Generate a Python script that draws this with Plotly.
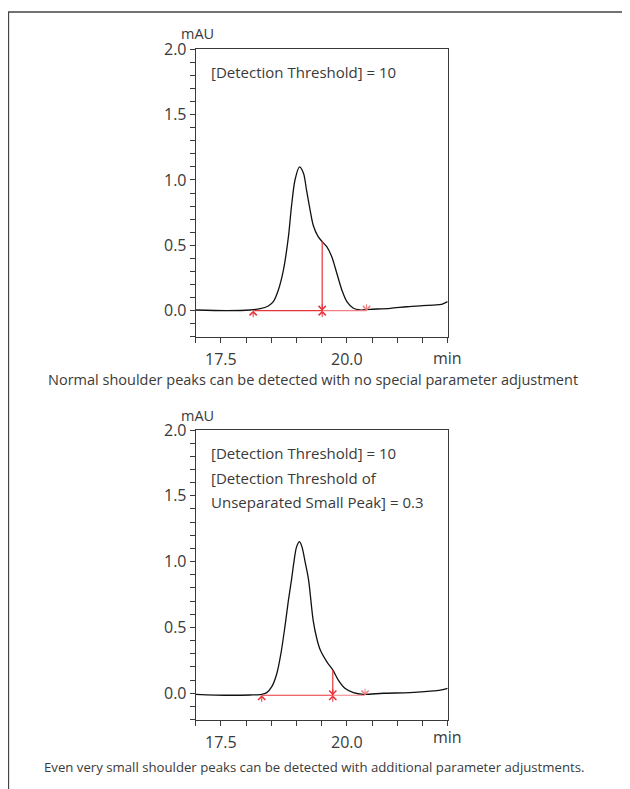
import plotly.graph_objects as go

# ---------------- data ----------------
# Top chromatogram (shoulder detected with default parameters)
top_time = [17.00, 17.62, 18.08, 18.28, 18.44, 18.54, 18.64, 18.74, 18.84, 18.90, 18.97,
            19.06, 19.14, 19.20, 19.27, 19.33, 19.43, 19.51, 19.60, 19.70, 19.80, 19.90,
            20.00, 20.13, 20.26, 20.46, 20.86, 21.19, 21.50, 21.72, 21.88, 22.00]
top_signal = [0.005, 0.000, 0.005, 0.015, 0.036, 0.069, 0.158, 0.310, 0.566, 0.796, 1.000,
              1.100, 1.050, 0.920, 0.770, 0.656, 0.566, 0.528, 0.490, 0.413, 0.286, 0.158,
              0.069, 0.018, 0.005, 0.010, 0.018, 0.030, 0.038, 0.043, 0.048, 0.069]

# Bottom chromatogram (very small shoulder, extra parameter)
bottom_time = [17.00, 17.62, 18.08, 18.31, 18.41, 18.51, 18.61, 18.69, 18.77, 18.84, 18.90,
               18.95, 19.00, 19.06, 19.11, 19.17, 19.24, 19.33, 19.40, 19.47, 19.60, 19.72,
               19.83, 19.96, 20.13, 20.33, 20.72, 21.25, 21.72, 21.88, 22.00]
bottom_signal = [-0.008, -0.015, -0.013, -0.008, 0.005, 0.050, 0.150, 0.300, 0.505, 0.707, 0.860,
                 1.000, 1.110, 1.152, 1.110, 1.000, 0.860, 0.556, 0.420, 0.330, 0.240, 0.177,
                 0.100, 0.038, 0.005, -0.008, 0.000, 0.005, 0.018, 0.025, 0.038]

# Peak integration marks: [start, split, end], baseline level, split height
top_marks = [18.14, 19.51, 20.39]
top_base_level = 0.0
top_split_height = 0.53
bottom_marks = [18.31, 19.72, 20.36]
bottom_base_level = -0.015
bottom_split_height = 0.177

# Axis ticks
x_tick_vals = [17.0, 17.5, 18.0, 18.5, 19.0, 19.5, 20.0, 20.5, 21.0, 21.5, 22.0]
x_tick_text = ["", "17.5", "", "", "", "", "20.0", "", "", "", ""]
y_tick_vals = [round(-0.2 + 0.1 * i, 1) for i in range(23)]
y_label_map = {0.0: "0.0", 0.5: "0.5", 1.0: "1.0", 1.5: "1.5", 2.0: "2.0"}
y_tick_text = [y_label_map.get(v, "") for v in y_tick_vals]

# Texts
top_note = ["[Detection Threshold] = 10"]
bottom_note = ["[Detection Threshold] = 10",
               "[Detection Threshold of",
               "Unseparated Small Peak] = 0.3"]
top_caption = "Normal shoulder peaks can be detected with no special parameter adjustment"
bottom_caption = "Even very small shoulder peaks can be detected with additional parameter adjustments."
y_unit = "mAU"
x_unit = "min"

# ---------------- styling ----------------
OFF = 8                      # page body margin of the browser
W, H = 630 - OFF, 789 - OFF
FONT = "Open Sans"
TXT = "#3a3a3a"
AX = "#3a3a3a"
RED = "#e8333a"
PINK = "#f07f82"

def px(x):
    return (x - OFF) / W

def py(y):
    return 1 - (y - OFF) / H

fig = go.Figure()

panels = [
    dict(t=top_time, s=top_signal, m=top_marks, b=top_base_level, h=top_split_height, xa="x", ya="y"),
    dict(t=bottom_time, s=bottom_signal, m=bottom_marks, b=bottom_base_level, h=bottom_split_height, xa="x2", ya="y2"),
]

annotations = []
for p in panels:
    fig.add_trace(go.Scatter(x=p["t"], y=p["s"], mode="lines",
                             line=dict(color="#111111", width=1.3, shape="spline", smoothing=0.8),
                             xaxis=p["xa"], yaxis=p["ya"], showlegend=False, hoverinfo="skip"))
    start, split, end = p["m"]
    fig.add_trace(go.Scatter(x=[start, split], y=[p["b"], p["b"]], mode="lines", line=dict(color=RED, width=1.2),
                             xaxis=p["xa"], yaxis=p["ya"], showlegend=False, hoverinfo="skip"))
    fig.add_trace(go.Scatter(x=[split, end], y=[p["b"], p["b"]], mode="lines", line=dict(color=PINK, width=1.2),
                             xaxis=p["xa"], yaxis=p["ya"], showlegend=False, hoverinfo="skip"))
    fig.add_trace(go.Scatter(x=[split, split], y=[p["b"], p["h"]], mode="lines", line=dict(color=RED, width=1.2),
                             xaxis=p["xa"], yaxis=p["ya"], showlegend=False, hoverinfo="skip"))
    # arrow marks
    arrow_specs = [(start, 8, RED), (split, 8, RED), (split, -8, RED), (end, -8, PINK)]
    for xv, ay, col in arrow_specs:
        annotations.append(dict(x=xv, y=p["b"], xref=p["xa"], yref=p["ya"], text="", showarrow=True,
                                ax=0, ay=ay, arrowhead=4, arrowsize=1.4, arrowwidth=1, arrowcolor=col, standoff=0))

# layout positions (page pixels)
top_box = dict(l=195.7, r=447.7, t=49.3, b=336.8)
bot_box = dict(l=195.7, r=447.7, t=430.0, b=719.6)

axis_common = dict(showline=True, mirror=True, linecolor=AX, linewidth=1, ticks="outside", ticklen=5,
                   tickwidth=1, tickcolor=AX, showgrid=False, zeroline=False,
                   tickfont=dict(family=FONT, size=16, color=TXT), tickmode="array")

def xaxis(box, anchor):
    return dict(axis_common, domain=[px(box["l"]), px(box["r"])], range=[17, 22], anchor=anchor,
                tickvals=x_tick_vals, ticktext=x_tick_text, ticklabelstandoff=3)

def yaxis(box, anchor):
    return dict(axis_common, domain=[py(box["b"]), py(box["t"])], range=[-0.2, 2.0], anchor=anchor,
                tickvals=y_tick_vals, ticktext=y_tick_text)

def add_text(text, x, y, size=14, xanchor="center"):
    annotations.append(dict(text=text, x=px(x), y=py(y), xref="paper", yref="paper", showarrow=False,
                            xanchor=xanchor, yanchor="middle", font=dict(family=FONT, size=size, color=TXT)))

add_text(y_unit, 197, 34, size=14.5)
add_text(y_unit, 197, 415, size=14.5)
add_text(x_unit, 447.7, 358, size=16)
add_text(x_unit, 447.7, 737, size=16)
for i, line in enumerate(top_note):
    add_text(line, 209, 71.7 + 24 * i, size=15, xanchor="left")
for i, line in enumerate(bottom_note):
    add_text(line, 209, 453.3 + 24.2 * i, size=15, xanchor="left")
add_text(top_caption, 313, 379.5, size=14.5)
add_text(bottom_caption, 314, 767, size=13.2)

shapes = [
    dict(type="line", xref="paper", yref="paper", x0=px(8), x1=1, y0=py(12), y1=py(12),
         line=dict(color="#444444", width=1.3)),
    dict(type="line", xref="paper", yref="paper", x0=px(8.5), x1=px(8.5), y0=py(12), y1=0,
         line=dict(color="#444444", width=1.3)),
]

fig.update_layout(
    width=W, height=H, margin=dict(l=0, r=0, t=0, b=0, autoexpand=False),
    paper_bgcolor="white", plot_bgcolor="white",
    xaxis=xaxis(top_box, "y"), yaxis=yaxis(top_box, "x"),
    xaxis2=xaxis(bot_box, "y2"), yaxis2=yaxis(bot_box, "x2"),
    annotations=annotations, shapes=shapes, showlegend=False,
    font=dict(family=FONT, color=TXT),
)

fig.write_html("out.html")
